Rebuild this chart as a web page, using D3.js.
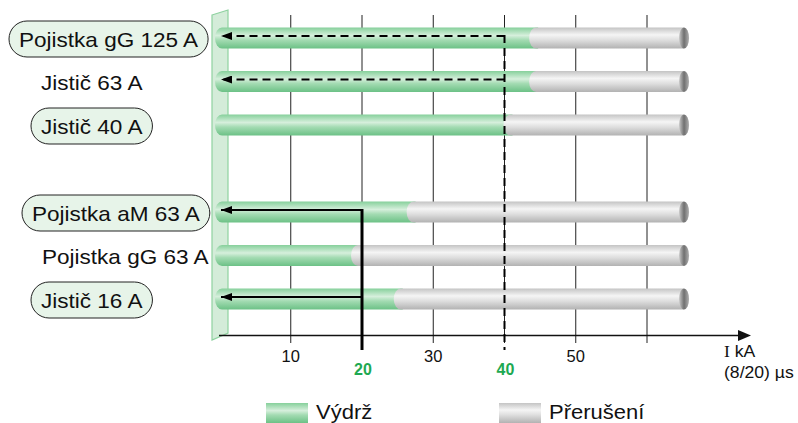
<!DOCTYPE html>
<html>
<head>
<meta charset="utf-8">
<script src="https://cdn.jsdelivr.net/npm/d3@7"></script>
<style>
  body { margin: 0; background: #fff; }
  text { font-family: "Liberation Sans", Arial, sans-serif; }
</style>
</head>
<body>
<svg id="chart" width="798" height="423"></svg>
<script>
// data
var kategorie = ["Pojistka gG 125 A", "Jistič 63 A", "Jistič 40 A", "Pojistka aM 63 A", "Pojistka gG 63 A", "Jistič 16 A"];
var vydrz = [43.6, 43.6, 40, 26.4, 18.6, 24.6];      // kA, konec zelene casti
var konec = [65.2, 65.2, 65.2, 65.2, 65.2, 65.2];    // kA, konec sede casti
var oramovano = [true, false, true, true, false, true];
var sipkaOd = [40, 40, null, 20, null, 20];
var carkovane = [true, true, false, false, false, false];
var mrizka = [10, 20, 30, 40, 50, 60];
var popiskyCerne = [10, 30, 50];
var popiskyZelene = [20, 40];

// layout
var labelX = [19, 41, 41, 32, 42, 41];
var vyska = 21;

var svg = d3.select("#chart");
var defs = svg.append("defs");

function gradient(id, stops) {
    var g = defs.append("linearGradient").attr("id", id)
        .attr("x1", 0).attr("y1", 0).attr("x2", 0).attr("y2", 1);
    stops.forEach(function (s) {
        g.append("stop").attr("offset", s[0]).attr("stop-color", s[1]);
    });
}
gradient("zelena", [[0, "#86d09b"], [0.38, "#d6efdc"], [0.6, "#a3dbb2"], [1, "#6cc186"]]);
gradient("seda", [[0, "#c4c4c4"], [0.35, "#f5f5f5"], [0.6, "#dedede"], [1, "#b2b2b2"]]);
var rg = defs.append("linearGradient").attr("id", "vicko")
    .attr("x1", 0).attr("y1", 0).attr("x2", 1).attr("y2", 0);
rg.append("stop").attr("offset", 0).attr("stop-color", "#c8c8c8");
rg.append("stop").attr("offset", 0.5).attr("stop-color", "#707070");
rg.append("stop").attr("offset", 1).attr("stop-color", "#b0b0b0");

// hrot sipky smeruje po smeru cary
defs.append("marker").attr("id", "sipka")
    .attr("viewBox", "0 0 11 8").attr("refX", 11).attr("refY", 4)
    .attr("markerWidth", 11).attr("markerHeight", 8)
    .attr("markerUnits", "userSpaceOnUse").attr("orient", "auto")
    .append("path").attr("d", "M11,4 L0,0 L0,8 Z").attr("fill", "#000");

var x = d3.scaleLinear().domain([0, 60]).range([219.5, 647]);
var sloty = kategorie.slice(0, 3).concat([""]).concat(kategorie.slice(3));
var y = d3.scalePoint().domain(sloty).range([38, 299]);

// stena
svg.append("polygon")
    .attr("points", "212,15 228,10 228,333 212,340")
    .attr("fill", "#d4ecd9").attr("stroke", "#8fd2a0").attr("stroke-width", 1.2);

// mrizka
svg.selectAll(".grid").data(mrizka).join("line")
    .attr("x1", function (d) { return x(d); }).attr("x2", function (d) { return x(d); })
    .attr("y1", 15).attr("y2", 343)
    .attr("stroke", "#222").attr("stroke-width", 1);

// pruhy
var radky = svg.selectAll(".radek").data(kategorie).join("g")
    .attr("transform", function (d) { return "translate(0," + y(d) + ")"; });

function kapsle(x1, x2, r) {
    var h = vyska / 2;
    return "M" + (x1 + r) + "," + (-h) + " L" + x2 + "," + (-h) + " L" + x2 + "," + h +
        " L" + (x1 + r) + "," + h + " A" + r + "," + h + " 0 0 1 " + (x1 + r) + "," + (-h) + " Z";
}

radky.append("path")
    .attr("d", function (d, i) { return kapsle(215, x(vydrz[i]) + 8, 7); })
    .attr("fill", "url(#zelena)");
radky.append("path")
    .attr("d", function (d, i) { return kapsle(x(vydrz[i]) - 1, x(konec[i]), 7); })
    .attr("fill", "url(#seda)");
radky.append("ellipse")
    .attr("cx", function (d, i) { return x(konec[i]); }).attr("cy", 0)
    .attr("rx", 5).attr("ry", vyska / 2)
    .attr("fill", "url(#vicko)");

// osa
var osaY = 335.5;
svg.append("line").attr("x1", 219).attr("x2", 740).attr("y1", osaY).attr("y2", osaY)
    .attr("stroke", "#111").attr("stroke-width", 1.5);
svg.append("path").attr("d", "M738," + (osaY - 5.5) + " L751," + osaY + " L738," + (osaY + 5.5) + " Z")
    .attr("fill", "#111");

svg.selectAll(".tl").data(popiskyCerne).join("text")
    .attr("x", function (d) { return x(d); }).attr("y", 362)
    .attr("text-anchor", "middle").attr("font-size", 16.5).attr("fill", "#111")
    .text(function (d) { return d; });
svg.selectAll(".tz").data(popiskyZelene).join("text")
    .attr("x", function (d) { return x(d) + 1; }).attr("y", 375)
    .attr("text-anchor", "middle").attr("font-size", 16).attr("font-weight", "bold")
    .attr("fill", "#1ea952")
    .text(function (d) { return d; });

svg.append("text").attr("transform", "translate(724,357) scale(1.1,1)")
    .attr("font-size", 16).attr("fill", "#111")
    .html('<tspan font-family="Liberation Serif">I</tspan> kA');
svg.append("text").attr("transform", "translate(724,378) scale(1.1,1)")
    .attr("font-size", 16).attr("fill", "#111")
    .text("(8/20) µs");

// sipky
kategorie.forEach(function (k, i) {
    if (sipkaOd[i] === null) return;
    var yy = y(k) - 2;
    svg.append("line")
        .attr("x1", x(sipkaOd[i])).attr("x2", 221).attr("y1", yy).attr("y2", yy)
        .attr("stroke", "#000").attr("stroke-width", 2)
        .attr("stroke-dasharray", carkovane[i] ? "8,5" : null)
        .attr("marker-end", "url(#sipka)");
});
// svisle cary
svg.append("line").attr("x1", x(40)).attr("x2", x(40)).attr("y1", y(kategorie[0]) - 3).attr("y2", 350)
    .attr("stroke", "#000").attr("stroke-width", 2).attr("stroke-dasharray", "8,5");
svg.append("line").attr("x1", x(20)).attr("x2", x(20)).attr("y1", y(kategorie[3]) - 3).attr("y2", 350)
    .attr("stroke", "#000").attr("stroke-width", 3);

// popisky
kategorie.forEach(function (k, i) {
    var cy = y(k) + 1;
    var g = svg.append("g");
    var t = g.append("text")
        .attr("transform", "translate(" + labelX[i] + "," + (cy + 7.5) + ") scale(1.1,1)")
        .attr("font-size", 20.5).attr("fill", "#111")
        .text(k);
    if (oramovano[i]) {
        var w = t.node().getComputedTextLength() * 1.1;
        g.insert("rect", "text")
            .attr("x", labelX[i] - 10).attr("y", cy - 18)
            .attr("width", w + 20).attr("height", 36).attr("rx", 18)
            .attr("fill", "#e7f4e9").attr("stroke", "#222").attr("stroke-width", 1);
    }
});

// legenda
var legenda = [["Výdrž", "url(#zelena)", 266], ["Přerušení", "url(#seda)", 499]];
legenda.forEach(function (l) {
    svg.append("rect").attr("x", l[2]).attr("y", 403).attr("width", 42).attr("height", 20)
        .attr("fill", l[1]);
    svg.append("text")
        .attr("transform", "translate(" + (l[2] + 50) + ",419) scale(1.1,1)")
        .attr("font-size", 20).attr("fill", "#111").text(l[0]);
});
</script>
</body>
</html>
